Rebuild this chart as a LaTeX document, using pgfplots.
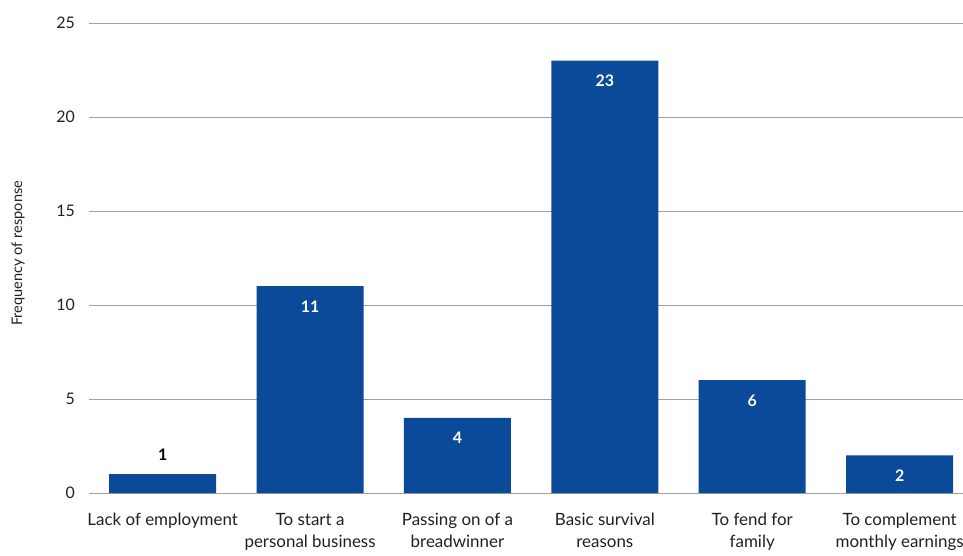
\documentclass[border=0pt]{standalone}
\usepackage{fontspec}
\setmainfont{Lato}
\usepackage{pgfplots}
\pgfplotsset{compat=1.18}
\definecolor{barblue}{RGB}{11,74,153}
\definecolor{gridgray}{RGB}{160,160,160}
\definecolor{txt}{RGB}{35,31,32}
\begin{document}
\begin{tikzpicture}
\useasboundingbox (0,0) rectangle (963bp,556bp);
\begin{axis}[
  at={(89bp,63bp)}, anchor=south west,
  scale only axis, width=874bp, height=470bp,
  xmin=-0.5, xmax=5.43, ymin=0, ymax=25,
  ytick={0,5,...,25},
  xtick={0,1,2,3,4,5},
  xticklabels={Lack of employment, To start a\\personal business, Passing on of a\\breadwinner, Basic survival\\reasons, To fend for\\family, To complement\\monthly earnings},
  major tick length=0pt,
  axis line style={draw=none},
  ymajorgrids, grid style={gridgray, line width=0.9bp},
  /pgf/number format/assume math mode=true,
  tick label style={text=txt},
  yticklabel style={font=\fontsize{16}{20}\selectfont, anchor=east, inner sep=0pt, xshift=-14bp},
  xticklabel style={font=\fontsize{17}{22}\selectfont, anchor=north, align=center, inner sep=0pt, yshift=-20bp},
  every axis y label/.style={at={(rel axis cs:0,0.51)}, xshift=-71bp, anchor=center, rotate=90},
  ylabel={Frequency of response},
  ylabel style={font=\fontsize{14.6}{17}\selectfont, text=txt},
  clip=false,
]
% bars
\addplot[ybar, bar width=0.726, bar shift=0pt, fill=barblue, draw=none]
  coordinates {(0,1) (1,11) (2,4) (3,23) (4,6) (5,2)};
% value labels inside the bars
\addplot[draw=none, mark=none, nodes near coords,
  every node near coord/.style={anchor=north, yshift=-11bp, text=white, font=\fontsize{16}{18}\bfseries}]
  coordinates {(1,11) (2,4) (3,23) (4,6) (5,2)};
% value label above the short bar
\addplot[draw=none, mark=none, nodes near coords,
  every node near coord/.style={anchor=south, yshift=10bp, text=black, font=\fontsize{16}{18}\bfseries}]
  coordinates {(0,1)};
\end{axis}
\end{tikzpicture}
\end{document}
